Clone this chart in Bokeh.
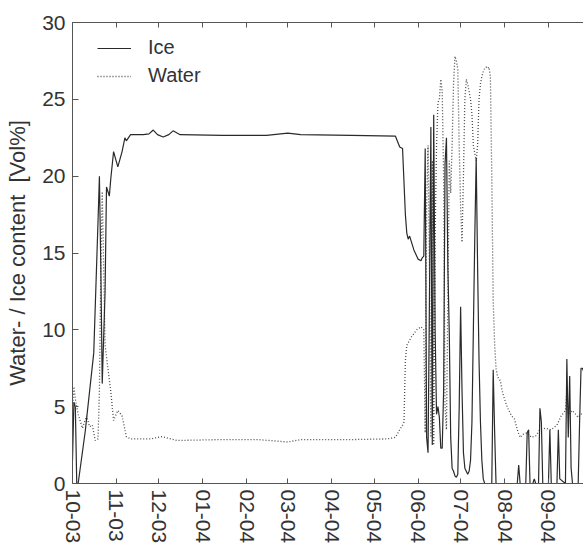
import pandas as pd
from bokeh.plotting import figure
from bokeh.models import (DatetimeAxis, MonthsTicker, DatetimeTickFormatter,
                          FixedTicker, Legend, LegendItem, Range1d)
from bokeh.embed import file_html
from bokeh.resources import INLINE

# ---------------- data ----------------
ice_dates = [
    "2003-10-01", "2003-10-02", "2003-10-03", "2003-10-04", "2003-10-05",
    "2003-10-10", "2003-10-16", "2003-10-19", "2003-10-20", "2003-10-21",
    "2003-10-22", "2003-10-24", "2003-10-25", "2003-10-26", "2003-10-27",
    "2003-10-28", "2003-10-30", "2003-11-02", "2003-11-05", "2003-11-07",
    "2003-11-08", "2003-11-11", "2003-11-20", "2003-11-24", "2003-11-27",
    "2003-11-30", "2003-12-04", "2003-12-08", "2003-12-11", "2003-12-16",
    "2004-01-15", "2004-02-15", "2004-03-01", "2004-03-10", "2004-04-15",
    "2004-05-16", "2004-05-19", "2004-05-21", "2004-05-23", "2004-05-24",
    "2004-05-25", "2004-05-26", "2004-05-29", "2004-06-01", "2004-06-03",
    "2004-06-04", "2004-06-05", "2004-06-06", "2004-06-07", "2004-06-08",
    "2004-06-09", "2004-06-10", "2004-06-11", "2004-06-12", "2004-06-13",
    "2004-06-14", "2004-06-15", "2004-06-16", "2004-06-17", "2004-06-18",
    "2004-06-19", "2004-06-20", "2004-06-21", "2004-06-22", "2004-06-23",
    "2004-06-24", "2004-06-25", "2004-06-26", "2004-06-27", "2004-06-28",
    "2004-06-29", "2004-06-30", "2004-07-01", "2004-07-02", "2004-07-03",
    "2004-07-04", "2004-07-05", "2004-07-06", "2004-07-07", "2004-07-08",
    "2004-07-09", "2004-07-10", "2004-07-11", "2004-07-12", "2004-07-13",
    "2004-07-14", "2004-07-15", "2004-07-16", "2004-07-17", "2004-07-18",
    "2004-07-23", "2004-07-24", "2004-07-25", "2004-07-26", "2004-08-10",
    "2004-08-11", "2004-08-12", "2004-08-16", "2004-08-17", "2004-08-18",
    "2004-08-19", "2004-08-21", "2004-08-22", "2004-08-23", "2004-08-25",
    "2004-08-26", "2004-08-27", "2004-08-28", "2004-09-01", "2004-09-02",
    "2004-09-03", "2004-09-07", "2004-09-08", "2004-09-09", "2004-09-13",
    "2004-09-14", "2004-09-15", "2004-09-16", "2004-09-17", "2004-09-18",
    "2004-09-22", "2004-09-23", "2004-09-24", "2004-09-25", "2004-09-27",
]
ice_vals = [
    1.5, 5.3, 5.0, 0.0, 0.0,
    3.4, 8.5, 17.0, 20.0, 14.0,
    6.5, 12.5, 19.3, 19.0, 18.7,
    19.8, 21.6, 20.6, 21.6, 22.5,
    22.3, 22.7, 22.7, 22.75, 23.0,
    22.7, 22.55, 22.7, 22.95, 22.7,
    22.65, 22.65, 22.8, 22.7, 22.65,
    22.6, 21.9, 21.8, 17.5, 16.3,
    15.9, 16.1, 15.2, 14.6, 14.5,
    14.7, 14.8, 21.8, 3.0, 2.0,
    12.0, 23.2, 2.5, 24.0, 10.0,
    4.5, 5.0, 4.3, 2.3, 2.3,
    6.0, 20.8, 22.5, 14.0, 9.8,
    3.0, 1.0, 0.8, 0.5, 0.4,
    0.6, 5.0, 11.5, 6.0, 2.0,
    1.0, 0.8, 0.6, 0.8, 1.5,
    4.0, 10.0, 16.0, 21.2, 14.0,
    8.0, 4.0, 1.5, 0.3, 0.0,
    0.0, 7.4, 3.4, 0.0, 0.0,
    1.2, 0.0, 0.0, 3.3, 3.5,
    0.0, 0.0, 0.3, 0.0, 0.0,
    4.9, 4.0, 0.0, 0.0, 3.5,
    0.0, 0.0, 3.5, 0.3, 0.0,
    8.1, 3.0, 7.0, 1.0, 0.0,
    0.0, 4.0, 7.5, 7.5, 7.0,
]

water_dates = [
    "2003-10-01", "2003-10-02", "2003-10-03", "2003-10-05", "2003-10-08",
    "2003-10-11", "2003-10-13", "2003-10-15", "2003-10-17", "2003-10-19",
    "2003-10-20", "2003-10-21", "2003-10-22", "2003-10-23", "2003-10-24",
    "2003-10-26", "2003-10-28", "2003-10-30", "2003-11-02", "2003-11-05",
    "2003-11-08", "2003-11-11", "2003-11-25", "2003-12-03", "2003-12-14",
    "2004-01-10", "2004-02-10", "2004-03-01", "2004-03-10", "2004-04-10",
    "2004-05-10", "2004-05-16", "2004-05-19", "2004-05-21", "2004-05-22",
    "2004-05-23", "2004-05-24", "2004-05-27", "2004-05-31", "2004-06-03",
    "2004-06-05", "2004-06-06", "2004-06-07", "2004-06-08", "2004-06-09",
    "2004-06-10", "2004-06-11", "2004-06-12", "2004-06-13", "2004-06-14",
    "2004-06-15", "2004-06-16", "2004-06-17", "2004-06-18", "2004-06-19",
    "2004-06-20", "2004-06-21", "2004-06-22", "2004-06-23", "2004-06-24",
    "2004-06-25", "2004-06-26", "2004-06-27", "2004-06-28", "2004-06-29",
    "2004-06-30", "2004-07-01", "2004-07-02", "2004-07-03", "2004-07-04",
    "2004-07-05", "2004-07-06", "2004-07-07", "2004-07-08", "2004-07-09",
    "2004-07-10", "2004-07-11", "2004-07-12", "2004-07-13", "2004-07-14",
    "2004-07-15", "2004-07-16", "2004-07-17", "2004-07-18", "2004-07-19",
    "2004-07-20", "2004-07-21", "2004-07-22", "2004-07-23", "2004-07-24",
    "2004-07-25", "2004-07-26", "2004-07-27", "2004-07-28", "2004-07-29",
    "2004-07-30", "2004-07-31", "2004-08-02", "2004-08-04", "2004-08-06",
    "2004-08-08", "2004-08-10", "2004-08-12", "2004-08-14", "2004-08-17",
    "2004-08-20", "2004-08-23", "2004-08-26", "2004-08-30", "2004-09-03",
    "2004-09-07", "2004-09-10", "2004-09-13", "2004-09-14", "2004-09-15",
    "2004-09-18", "2004-09-22", "2004-09-25", "2004-09-27",
]
water_vals = [
    5.0, 6.3, 5.5, 4.5, 3.6,
    4.4, 3.7, 3.8, 2.8, 2.9,
    6.0, 14.0, 19.0, 14.0, 9.0,
    7.5, 6.0, 4.1, 4.75, 4.4,
    3.05, 2.9, 2.9, 3.05, 2.8,
    2.85, 2.85, 2.7, 2.85, 2.85,
    2.9, 3.0, 3.5, 3.8, 4.0,
    8.0, 9.0, 9.5, 10.0, 10.2,
    10.0, 3.3, 18.0, 22.0, 14.0,
    3.0, 21.0, 2.5, 16.0, 22.0,
    24.8, 25.0, 26.3, 25.5, 20.0,
    5.0, 3.5, 12.0, 21.0, 18.9,
    22.0, 26.0, 27.8, 27.5, 27.0,
    22.0, 18.0, 15.7, 20.0, 25.0,
    26.3, 26.0, 25.5, 25.0, 24.0,
    22.0, 21.5, 21.0, 22.0, 25.0,
    26.0, 26.5, 26.8, 27.0, 27.1,
    27.0, 27.1, 26.5, 20.0, 11.9,
    9.1, 7.5, 7.0, 6.8, 6.7,
    6.2, 5.8, 5.2, 4.75, 4.4,
    4.2, 3.5, 3.0, 3.2, 3.3,
    3.0, 3.1, 3.5, 3.6, 3.5,
    3.8, 4.4, 4.75, 6.0, 4.5,
    4.75, 4.3, 4.6, 4.6,
]

y_ticks = [0, 5, 10, 15, 20, 25, 30]
x_start, x_end = "2003-10-01", "2004-09-25 18:00"
y_title = "Water- / Ice content \u00a0[Vol%]"

# ---------------- figure ----------------
FONT = "Liberation Sans"
TXT = "#333333"
AX = "#555555"

ice_x = pd.to_datetime(ice_dates)
water_x = pd.to_datetime(water_dates)

p = figure(width=583, height=552, x_axis_type="datetime",
           x_range=Range1d(pd.Timestamp(x_start), pd.Timestamp(x_end)),
           y_range=Range1d(0, 30),
           output_backend="svg", toolbar_location=None,
           min_border_left=72, min_border_top=22, min_border_bottom=69,
           min_border_right=0)
p.outline_line_color = None
p.grid.visible = False
p.background_fill_color = "white"

water_r = p.line(water_x, water_vals, line_color="#4a4a4a", line_width=1.3,
                 line_dash="1 2")
ice_r = p.line(ice_x, ice_vals, line_color="#2a2a2a", line_width=1.2)

months = MonthsTicker(months=list(range(12)))
fmt = DatetimeTickFormatter(months="%m-%y", days="%m-%y", years="%m-%y")

xa = p.xaxis[0]
xa.ticker = months
xa.formatter = fmt
xa.major_label_orientation = "vertical"
xa.major_label_text_font = FONT
xa.major_label_text_font_size = "21px"
xa.major_label_text_color = TXT
xa.major_label_standoff = 6
xa.major_tick_in = 5
xa.major_tick_out = 0
xa.minor_tick_in = 0
xa.minor_tick_out = 0
xa.axis_line_color = AX
xa.major_tick_line_color = AX

ya = p.yaxis[0]
ya.ticker = FixedTicker(ticks=y_ticks)
ya.major_label_text_font = FONT
ya.major_label_text_font_size = "21px"
ya.major_label_text_color = TXT
ya.major_label_standoff = 7
ya.major_tick_in = 6
ya.major_tick_out = 0
ya.minor_tick_in = 0
ya.minor_tick_out = 0
ya.axis_line_color = AX
ya.major_tick_line_color = AX
ya.axis_label = y_title
ya.axis_label_text_font = FONT
ya.axis_label_text_font_size = "22px"
ya.axis_label_text_font_style = "normal"
ya.axis_label_text_color = TXT
ya.axis_label_standoff = 9

top = DatetimeAxis(ticker=MonthsTicker(months=list(range(12))),
                   major_label_text_font_size="0px",
                   major_label_standoff=0,
                   major_tick_in=5, major_tick_out=0,
                   minor_tick_in=0, minor_tick_out=0,
                   axis_line_color=AX, major_tick_line_color=AX)
p.add_layout(top, "above")

legend = Legend(items=[LegendItem(label="Ice", renderers=[ice_r]),
                       LegendItem(label="Water", renderers=[water_r])],
                location=(25, 396), padding=0, margin=0, spacing=5,
                glyph_width=34, glyph_height=20, label_height=20,
                label_standoff=17, border_line_color=None,
                background_fill_alpha=0,
                label_text_font=FONT, label_text_font_size="20px",
                label_text_color=TXT)
p.add_layout(legend, "center")

open("out.html", "w").write(file_html(p, INLINE))
